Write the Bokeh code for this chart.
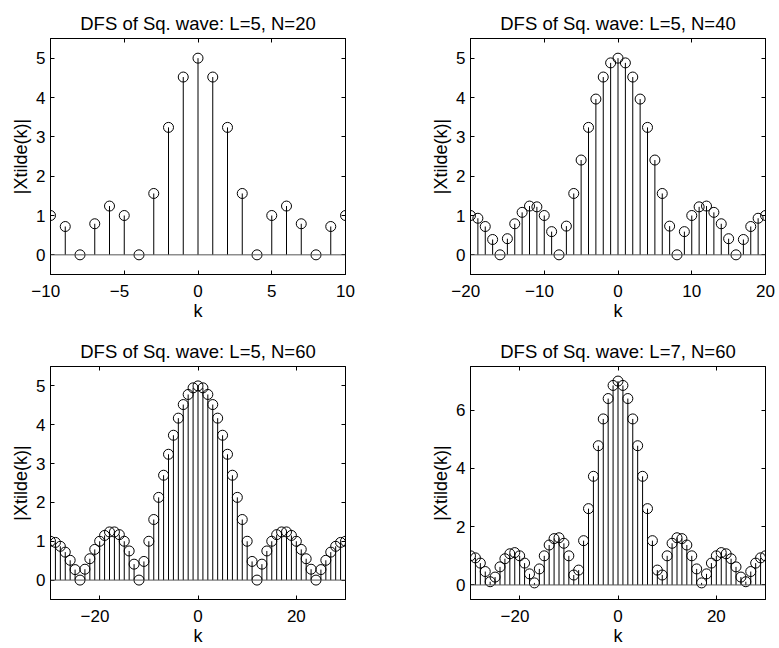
from bokeh.plotting import figure
from bokeh.layouts import column, row
from bokeh.models import FixedTicker, LinearAxis, Span, Range1d
from bokeh.embed import file_html
from bokeh.resources import INLINE

FONT = "Liberation Sans"

# ---- data ----
k_N20 = list(range(-10, 11))
mag_L5_N20 = [1.00, 0.72, 0.00, 0.79, 1.24, 1.00, 0.00, 1.56, 3.24, 4.52, 5.00,
              4.52, 3.24, 1.56, 0.00, 1.00, 1.24, 0.79, 0.00, 0.72, 1.00]

k_N40 = list(range(-20, 21))
mag_L5_N40 = [1.00, 0.93, 0.72, 0.39, 0.00, 0.41, 0.79, 1.08, 1.24, 1.22, 1.00,
              0.59, 0.00, 0.73, 1.56, 2.41, 3.24, 3.96, 4.52, 4.88, 5.00,
              4.88, 4.52, 3.96, 3.24, 2.41, 1.56, 0.73, 0.00, 0.59, 1.00,
              1.22, 1.24, 1.08, 0.79, 0.41, 0.00, 0.39, 0.72, 0.93, 1.00]

k_N60 = list(range(-30, 31))
mag_L5_N60 = [1.00, 0.97, 0.87, 0.72, 0.51, 0.27, 0.00, 0.28, 0.55, 0.79, 1.00,
              1.15, 1.24, 1.24, 1.17, 1.00, 0.75, 0.41, 0.00, 0.48, 1.00,
              1.56, 2.13, 2.70, 3.24, 3.73, 4.17, 4.52, 4.78, 4.95, 5.00,
              4.95, 4.78, 4.52, 4.17, 3.73, 3.24, 2.70, 2.13, 1.56, 1.00,
              0.48, 0.00, 0.41, 0.75, 1.00, 1.17, 1.24, 1.24, 1.15, 1.00,
              0.79, 0.55, 0.28, 0.00, 0.27, 0.51, 0.72, 0.87, 0.97, 1.00]

mag_L7_N60 = [1.00, 0.93, 0.75, 0.46, 0.11, 0.27, 0.62, 0.90, 1.07, 1.11, 1.00,
              0.75, 0.38, 0.07, 0.55, 1.00, 1.37, 1.59, 1.62, 1.43, 1.00,
              0.34, 0.51, 1.52, 2.62, 3.73, 4.78, 5.70, 6.40, 6.85, 7.00,
              6.85, 6.40, 5.70, 4.78, 3.73, 2.62, 1.52, 0.51, 0.34, 1.00,
              1.43, 1.62, 1.59, 1.37, 1.00, 0.55, 0.07, 0.38, 0.75, 1.00,
              1.11, 1.07, 0.90, 0.62, 0.27, 0.11, 0.46, 0.75, 0.93, 1.00]

titles = ["DFS of Sq. wave: L=5, N=20", "DFS of Sq. wave: L=5, N=40",
          "DFS of Sq. wave: L=5, N=60", "DFS of Sq. wave: L=7, N=60"]
xlabel = "k"
ylabel = "|Xtilde(k)|"
xticks_N20 = [-10, -5, 0, 5, 10]
xticks_N40 = [-20, -10, 0, 10, 20]
xticks_N60 = [-20, 0, 20]
yticks_L5 = [0, 1, 2, 3, 4, 5]
yticks_L7 = [0, 2, 4, 6]


def labels(ticks):
    # MATLAB centres the digits on the tick and lets the minus sign hang left
    return {t: ("\u2212" + str(-t) + "\u2007" if t < 0 else str(t)) for t in ticks}


def make(title, k, mag, xr, yr, xticks, yticks, w, bl, br, bt, bb):
    p = figure(width=w, height=324,
               x_range=Range1d(*xr), y_range=Range1d(*yr),
               output_backend="svg", toolbar_location=None,
               min_border_left=bl, min_border_right=br,
               min_border_top=bt, min_border_bottom=bb, title=title)
    p.title.text_font = FONT
    p.title.text_font_size = "18.5px"
    p.title.text_font_style = "normal"
    p.title.align = "center"
    p.title.text_color = "black"
    p.title.standoff = 10
    p.grid.visible = False
    p.outline_line_color = "black"
    p.outline_line_alpha = 1
    p.background_fill_color = "white"
    p.border_fill_color = "white"

    for ax, tk in ((p.xaxis[0], xticks), (p.yaxis[0], yticks)):
        ax.ticker = FixedTicker(ticks=tk)
        ax.major_label_overrides = labels(tk)
        ax.major_label_text_font = FONT
        ax.major_label_text_font_size = "17px"
        ax.major_label_text_color = "black"
        ax.axis_label_text_font = FONT
        ax.axis_label_text_font_size = "18px"
        ax.axis_label_text_font_style = "normal"
        ax.axis_label_text_color = "black"
        ax.major_tick_in = 4
        ax.major_tick_out = 0
        ax.minor_tick_line_color = None
        ax.axis_line_color = "black"
        ax.major_tick_line_color = "black"
    p.xaxis[0].axis_label = xlabel
    p.xaxis[0].major_label_standoff = 7
    p.xaxis[0].axis_label_standoff = -3
    p.yaxis[0].axis_label = ylabel
    p.yaxis[0].major_label_standoff = 5
    p.yaxis[0].axis_label_standoff = 2

    top = LinearAxis(ticker=FixedTicker(ticks=xticks),
                     major_label_overrides={t: "" for t in xticks},
                     major_label_text_font_size="1px",
                     major_label_standoff=0, major_tick_in=4, major_tick_out=0,
                     minor_tick_line_color=None, axis_line_color="black")
    right = LinearAxis(ticker=FixedTicker(ticks=yticks),
                       major_label_overrides={t: "" for t in yticks},
                       major_label_text_font_size="1px",
                       major_label_standoff=0, major_tick_in=4, major_tick_out=0,
                       minor_tick_line_color=None, axis_line_color="black")
    p.add_layout(top, "above")
    p.add_layout(right, "right")

    p.add_layout(Span(location=0, dimension="width", line_color="#555555", line_width=1))
    p.segment(x0=k, y0=[0] * len(k), x1=k, y1=mag, line_color="black", line_width=1)
    p.scatter(x=k, y=mag, marker="circle", size=10, fill_color=None,
              line_color="black", line_width=1)
    return p


p1 = make(titles[0], k_N20, mag_L5_N20, (-10, 10), (-0.5, 5.5), xticks_N20, yticks_L5, 390, 50, 45, 38, 50)
p2 = make(titles[1], k_N40, mag_L5_N40, (-20, 20), (-0.5, 5.5), xticks_N40, yticks_L5, 389, 80, 14, 38, 50)
p3 = make(titles[2], k_N60, mag_L5_N60, (-30, 30), (-0.5, 5.5), xticks_N60, yticks_L5, 390, 50, 45, 42, 48)
p4 = make(titles[3], k_N60, mag_L7_N60, (-30, 30), (-0.5, 7.5), xticks_N60, yticks_L7, 389, 80, 14, 42, 48)

layout = column(row(p1, p2, spacing=0), row(p3, p4, spacing=0), spacing=0)
open("out.html", "w").write(file_html(layout, INLINE))
